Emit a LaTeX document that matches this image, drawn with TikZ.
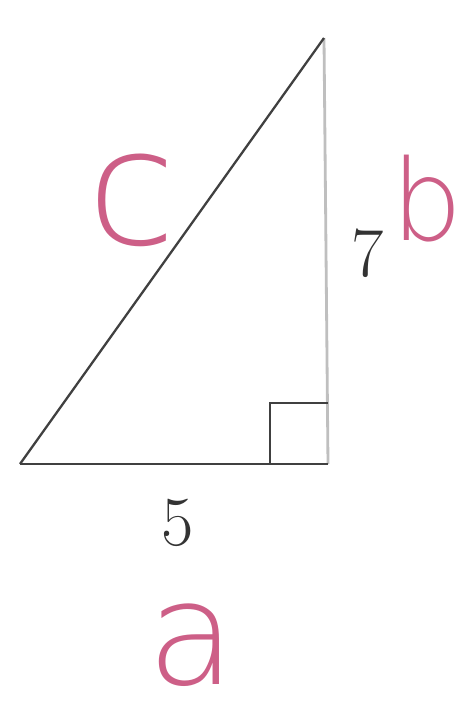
\documentclass[tikz,border=0pt]{standalone}
\usepackage{fontspec}
\usepackage{tikz}
\usetikzlibrary{positioning}
\newfontfamily\handfont[UprightFont={* ExtraLight}]{DejaVu Sans}
\definecolor{penpink}{RGB}{205,95,135}

\begin{document}
\begin{tikzpicture}[x=0.02cm, y=-0.02cm,
        side/.style={draw=black!75, line width=1.3pt},
        pale/.style={draw=black!25, line width=1.6pt},
        num/.style={font=\fontsize{40}{44}\selectfont, text=black!80, inner sep=0pt},
        hand/.style={font=\handfont\fontsize{92}{100}\selectfont, text=penpink, inner sep=0pt}]
      \useasboundingbox (0,0) rectangle (471,721);
      \coordinate (A) at (20,464);
      \coordinate (B) at (328,464);
      \coordinate (C) at (324,38);
      \coordinate (S) at (270,403);
      % sides
      \draw[pale] (B) -- (C);
      \draw[side] (A) -- (B);
      \draw[side] (A) -- (C);
      \draw[side, line width=1pt] (S |- B) -- (S) -- (S -| B);
      % labels
      \node[num] (five) at (178,523) {5};
      \node[num] (seven) at (368,253) {7};
      \node[hand] (lc) at (132,200) {c};
      \node[hand, font=\handfont\fontsize{64}{70}\selectfont] (lb) at (427,199) {b};
      \node[hand, font=\handfont\fontsize{82}{90}\selectfont] (la) at (192,645) {a};
\end{tikzpicture}
\end{document}
